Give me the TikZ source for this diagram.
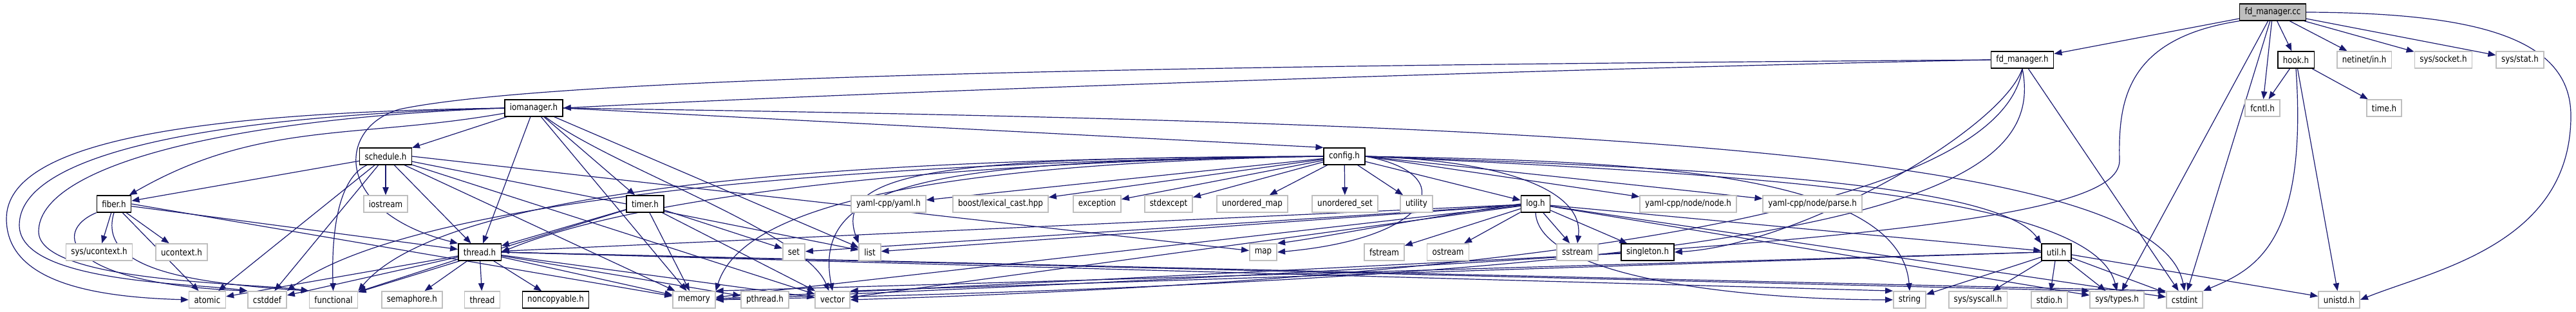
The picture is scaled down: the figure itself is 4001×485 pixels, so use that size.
\documentclass[tikz,border=0pt]{standalone}
\usepackage{fontspec}
\setmainfont{DejaVu Sans}[FakeStretch=0.85]
\definecolor{dxedge}{HTML}{191970}
\definecolor{dxgrey}{HTML}{BFBFBF}
\usepackage{tikz}
\usetikzlibrary{arrows.meta, backgrounds}

\begin{document}
\begin{tikzpicture}[x=0.75pt, y=-0.75pt,
  hdr/.style={draw=black, fill=white, line width=1pt, minimum height=19.5pt,
              inner xsep=6pt, inner ysep=0pt, font=\fontsize{10.5}{12}\selectfont},
  sys/.style={hdr, draw=dxgrey, line width=1.2pt},
  root/.style={hdr, fill=dxgrey},
  dep/.style={draw=dxedge, line width=0.9pt, -{Triangle[length=9pt, width=7pt]}}
]
  \useasboundingbox (0,0) rectangle (4001,485);

  \node[root] (fdcc) at (3530,19) {fd\_manager.cc};

  \node[hdr] (fdh) at (3141,93) {fd\_manager.h};
  \node[hdr] (hookh) at (3566,93) {hook.h};
  \node[sys] (netin) at (3672,93) {netinet/in.h};
  \node[sys] (syssock) at (3795,93) {sys/socket.h};
  \node[sys] (sysstat) at (3914,93) {sys/stat.h};

  \node[hdr] (iom) at (829,168) {iomanager.h};
  \node[sys] (fcntl) at (3514,168) {fcntl.h};
  \node[sys] (timeh) at (3703,168) {time.h};

  \node[hdr] (sched) at (599,243) {schedule.h};
  \node[hdr] (config) at (2088,243) {config.h};

  \node[hdr] (fiber) at (177,317) {fiber.h};
  \node[sys] (iostream) at (599,317) {iostream};
  \node[hdr] (timer) at (1002,317) {timer.h};
  \node[sys] (yaml) at (1380,317) {yaml-cpp/yaml.h};
  \node[sys] (boost) at (1554,317) {boost/lexical\_cast.hpp};
  \node[sys] (exception) at (1704,317) {exception};
  \node[sys] (stdexcept) at (1815,317) {stdexcept};
  \node[sys] (umap) at (1945,317) {unordered\_map};
  \node[sys] (uset) at (2089,317) {unordered\_set};
  \node[sys] (utility) at (2200,317) {utility};
  \node[hdr] (logh) at (2385,317) {log.h};
  \node[sys] (ynode) at (2622,317) {yaml-cpp/node/node.h};
  \node[sys] (yparse) at (2815,317) {yaml-cpp/node/parse.h};

  \node[sys] (sysuctx) at (154,392) {sys/ucontext.h};
  \node[sys] (uctx) at (282,392) {ucontext.h};
  \node[hdr] (thread) at (745,392) {thread.h};
  \node[sys] (set) at (1233,392) {set};
  \node[sys] (list) at (1351,392) {list};
  \node[sys] (map) at (1962,392) {map};
  \node[sys] (fstream) at (2150,392) {fstream};
  \node[sys] (ostream) at (2249,392) {ostream};
  \node[sys] (sstream) at (2450,392) {sstream};
  \node[hdr] (singleton) at (2559,392) {singleton.h};
  \node[hdr] (util) at (3194,392) {util.h};

  \node[sys] (atomic) at (322,466) {atomic};
  \node[sys] (cstddef) at (415,466) {cstddef};
  \node[sys] (functional) at (518,466) {functional};
  \node[sys] (semaphore) at (640,466) {semaphore.h};
  \node[sys] (threadstd) at (749,466) {thread};
  \node[hdr] (noncopy) at (863,466) {noncopyable.h};
  \node[sys] (memory) at (1078,466) {memory};
  \node[sys] (pthread) at (1188,466) {pthread.h};
  \node[sys] (vector) at (1293,466) {vector};
  \node[sys] (string) at (2966,466) {string};
  \node[sys] (syscall) at (3072,466) {sys/syscall.h};
  \node[sys] (stdio) at (3183,466) {stdio.h};
  \node[sys] (systypes) at (3288,466) {sys/types.h};
  \node[sys] (cstdint) at (3393,466) {cstdint};
  \node[sys] (unistd) at (3633,466) {unistd.h};

  \begin{scope}[on background layer]
  \draw[dep] (fdcc) -- (fdh);
  \draw[dep] (fdcc) -- (hookh);
  \draw[dep] (fdcc) -- (netin);
  \draw[dep] (fdcc) -- (syssock);
  \draw[dep] (fdcc) -- (sysstat);
  \draw[dep] (fdcc) -- (fcntl);
  \draw[dep] (fdcc) -- (systypes);
  \draw[dep] (fdcc) -- (cstdint);
  \draw[dep] (fdcc.east) .. controls (3850,20) and (3993,60) .. (3993,180)
    .. controls (3993,380) and (3780,420) .. (unistd.east);
  \draw[dep] (fdcc.south west) .. controls (3300,60) and (3290,160) .. (3292,250)
    .. controls (3290,340) and (2900,390) .. (memory.east);

  \draw[dep] (fdh.west) .. controls (2500,105) and (1400,140) .. (iom.east);
  \draw[dep] (fdh.west) .. controls (2200,100) and (900,110) .. (620,170)
    .. controls (520,200) and (520,330) .. (thread.north west);
  \draw[dep] (fdh.south) .. controls (3110,200) and (2800,380) .. (singleton.east);
  \draw[dep] (fdh.south) .. controls (3120,250) and (2800,420) .. (vector.east);
  \draw[dep] (fdh.south) .. controls (3180,300) and (2900,430) .. (memory.east);
  \draw[dep] (fdh) -- (cstdint);

  \draw[dep] (hookh) -- (fcntl);
  \draw[dep] (hookh) -- (timeh);
  \draw[dep] (hookh) -- (unistd);
  \draw[dep] (hookh.south) .. controls (3585,380) and (3500,420) .. (cstdint.north east);

  \draw[dep] (iom) -- (sched);
  \draw[dep] (iom) -- (timer);
  \draw[dep] (iom.east) -- (config.north west);
  \draw[dep] (iom) to[out=190, in=30] (fiber);
  \draw[dep] (iom) -- (thread);
  \draw[dep] (iom.west) .. controls (300,175) and (10,220) .. (10,340)
    .. controls (10,440) and (150,462) .. (atomic.west);
  \draw[dep] (iom.west) .. controls (320,180) and (30,240) .. (30,350)
    .. controls (30,440) and (300,440) .. (cstddef.north west);
  \draw[dep] (iom.west) .. controls (340,185) and (60,260) .. (60,360)
    .. controls (60,440) and (400,440) .. (functional.north west);
  \draw[dep] (iom) -- (memory);
  \draw[dep] (iom) .. controls (950,260) and (1250,360) .. (vector);
  \draw[dep] (iom) -- (list);
  \draw[dep] (iom.east) .. controls (2400,190) and (3350,230) .. (cstdint.north);

  \draw[dep] (sched) -- (fiber);
  \draw[dep] (sched) -- (iostream);
  \draw[dep] (sched) -- (thread);
  \draw[dep] (sched) -- (atomic);
  \draw[dep] (sched) -- (cstddef);
  \draw[dep] (sched) .. controls (520,280) and (515,380) .. (functional);
  \draw[dep] (sched) -- (memory);
  \draw[dep] (sched) -- (vector);
  \draw[dep] (sched) -- (list);
  \draw[dep] (sched.east) -- (map);

  \draw[dep] (fiber) -- (sysuctx);
  \draw[dep] (fiber) -- (uctx);
  \draw[dep] (fiber) -- (thread);
  \draw[dep] (fiber) -- (atomic);
  \draw[dep] (fiber.south west) .. controls (80,360) and (100,440) .. (cstddef.north west);
  \draw[dep] (fiber.south) .. controls (150,420) and (300,440) .. (functional.north west);
  \draw[dep] (fiber.east) -- (memory);

  \draw[dep] (timer) -- (thread);
  \draw[dep] (timer) -- (set);
  \draw[dep] (timer) -- (memory);
  \draw[dep] (timer) -- (vector);
  \draw[dep] (timer) -- (functional);

  \draw[dep] (config) -- (yaml);
  \draw[dep] (config) -- (boost);
  \draw[dep] (config) -- (exception);
  \draw[dep] (config) -- (stdexcept);
  \draw[dep] (config) -- (umap);
  \draw[dep] (config) -- (uset);
  \draw[dep] (config) -- (utility);
  \draw[dep] (config) -- (logh);
  \draw[dep] (config.west) .. controls (1500,250) and (1000,300) .. (thread.east);
  \draw[dep] (config.west) .. controls (1400,245) and (700,280) .. (functional.north east);
  \draw[dep] (config.west) .. controls (1400,250) and (650,300) .. (cstddef.north east);
  \draw[dep] (config.west) .. controls (1400,255) and (1150,330) .. (memory.north east);
  \draw[dep] (config.west) .. controls (1500,245) and (1290,260) .. (list.north west);
  \draw[dep] (config.west) .. controls (1450,250) and (1260,280) .. (vector.north);
  \draw[dep] (config.east) .. controls (2270,270) and (2230,370) .. (map.east);
  \draw[dep] (config.east) .. controls (2350,250) and (2460,300) .. (sstream.north);
  \draw[dep] (config.east) -- (ynode);
  \draw[dep] (config.east) -- (yparse);
  \draw[dep] (config.east) .. controls (2600,260) and (3100,280) .. (util.north west);
  \draw[dep] (config.east) .. controls (2500,250) and (2950,260) .. (string.north);
  \draw[dep] (config.east) .. controls (2700,270) and (3250,300) .. (systypes.north);

  \draw[dep] (logh) -- (fstream);
  \draw[dep] (logh) -- (ostream);
  \draw[dep] (logh) -- (sstream);
  \draw[dep] (logh.west) .. controls (2200,340) and (2050,370) .. (map.north east);
  \draw[dep] (logh) -- (set);
  \draw[dep] (logh) -- (list);
  \draw[dep] (logh) -- (thread);
  \draw[dep] (logh) -- (memory);
  \draw[dep] (logh) -- (vector);
  \draw[dep] (logh) -- (singleton);
  \draw[dep] (logh) -- (util);
  \draw[dep] (logh.south) .. controls (2390,430) and (2700,466) .. (string.west);
  \draw[dep] (logh) -- (systypes);
  \draw[dep] (logh) -- (cstdint);

  \draw[dep] (thread) -- (semaphore);
  \draw[dep] (thread) -- (threadstd);
  \draw[dep] (thread) -- (noncopy);
  \draw[dep] (thread) -- (atomic);
  \draw[dep] (thread) -- (cstddef);
  \draw[dep] (thread) -- (functional);
  \draw[dep] (thread) -- (memory);
  \draw[dep] (thread) -- (pthread);
  \draw[dep] (thread) -- (vector);
  \draw[dep] (thread.east) -- (string.north west);
  \draw[dep] (thread.east) -- (systypes.north west);
  \draw[dep] (thread.east) -- (cstdint.north west);

  \draw[dep] (util) -- (string);
  \draw[dep] (util) -- (syscall);
  \draw[dep] (util) -- (stdio);
  \draw[dep] (util) -- (systypes);
  \draw[dep] (util) -- (cstdint);
  \draw[dep] (util) -- (unistd);
  \draw[dep] (util.west) -- (vector.north east);
  \draw[dep] (util.west) -- (memory.north east);

  \draw[dep] (singleton) -- (memory);
  \end{scope}
\end{tikzpicture}
\end{document}
